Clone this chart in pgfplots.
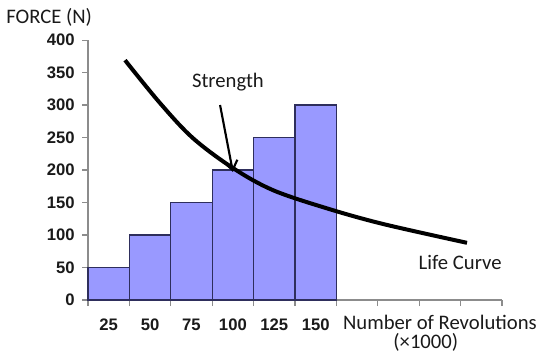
\documentclass[border=0pt]{standalone}
\usepackage{fontspec}
\setmainfont{Carlito}
\newfontfamily\arial{Liberation Sans}
\usepackage{pgfplots}
\pgfplotsset{compat=1.18}
\usetikzlibrary{arrows.meta}
\definecolor{barfill}{HTML}{9999FF}
\definecolor{baredge}{HTML}{2E2E5C}
\definecolor{axgray}{HTML}{8C8C8C}
\definecolor{txt}{HTML}{1A1A1A}
\begin{document}
\begin{tikzpicture}
\begin{axis}[
  scale only axis, width=310.5pt, height=195pt,
  xmin=0, xmax=10, ymin=0, ymax=400,
  axis x line*=bottom, axis y line*=left,
  axis line style={axgray, line width=1pt},
  clip=false,
  ytick={0,50,...,400},
  xtick={0.5,1.5,2.5,3.5,4.5,5.5},
  xticklabels={25,50,75,100,125,150},
  minor xtick={0,1,...,10},
  every major x tick/.append style={draw=none},
  tick align=outside,
  tick style={axgray, line width=0.8pt},
  major tick length=4.5pt, minor tick length=4.5pt,
  ticklabel style={font=\arial\bfseries\fontsize{12.5}{13}\selectfont, text=txt},
  /pgf/number format/assume math mode=true,
  xticklabel style={yshift=-6pt},
  yticklabel style={xshift=-2pt},
]
\path (rel axis cs:-0.2126,1.154) rectangle (rel axis cs:1.116,-0.2385);
\addplot[ybar, bar width=1, fill=barfill, draw=baredge, line width=0.9pt]
  coordinates {(0.5,50) (1.5,100) (2.5,150) (3.5,200) (4.5,250) (5.5,300)};
\addplot[black, line width=3pt, smooth, tension=0.55, no marks] coordinates {
  (0.894,369) (1.739,303) (2.536,249) (3.502,203) (4.469,169)
  (5.773,141) (7.126,117) (9.155,88)};
\draw[black, line width=1.6pt, -{Straight Barb[length=7pt,width=10pt]}]
  (axis cs:3.19,300) -- (axis cs:3.50,197);
\node[font=\fontsize{15.5}{16}\selectfont, text=txt] at (axis cs:3.38,335) {Strength};
\node[font=\fontsize{15.5}{16}\selectfont, text=txt] at (axis cs:8.99,58) {Life Curve};
\node[font=\fontsize{15.5}{16}\selectfont, text=txt] at (axis cs:-0.94,435) {FORCE (N)};
\node[font=\fontsize{15.5}{16}\selectfont, text=txt] at (axis cs:8.50,-33.8) {Number of Revolutions};
\node[font=\fontsize{15.5}{16}\selectfont, text=txt] at (axis cs:8.16,-64.6) {(×1000)};
\end{axis}
\end{tikzpicture}
\end{document}
